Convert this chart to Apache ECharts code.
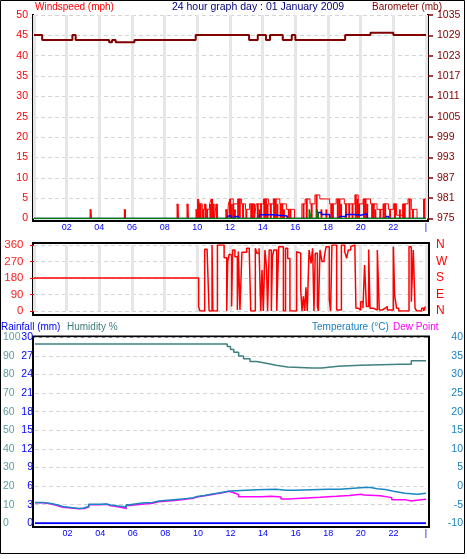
<!DOCTYPE html>
<html><head><meta charset="utf-8">
<script src="https://cdn.jsdelivr.net/npm/echarts@6/dist/echarts.min.js"></script>
<style>html,body{margin:0;padding:0;background:#fff}#c{width:467px;height:559px}</style>
</head><body><div id="c"></div>
<script>
// ---- Top panel: wind speed (mph) & barometer (mb) ----
const gustT = [0,3.45,3.52,5.53,5.6,8.77,8.85,9.38,9.45,9.93,10.0,10.05,10.12,10.3,10.45,10.55,10.75,10.85,10.95,11.05,11.15,11.25,11.75,11.85,11.9,12.0,12.2,12.5,12.7,12.95,13.2,13.5,13.6,14.05,14.35,14.65,15.05,15.45,15.95,16.4,16.6,16.9,17.2,17.5,18.1,18.5,19.0,19.65,19.85,20.15,20.6,21.0,21.4,21.7,22.0,22.2,22.6,22.9,23.1,23.45,23.85,24];
const gustV = [0,2.25,0,2.25,0,3.6,0,3.6,0,2.25,0,4.8,3.6,2.25,3.6,2.25,3.6,4.8,3.6,0,3.6,0,2.25,0,3.6,4.8,3.6,4.8,3.6,2.25,3.6,0,3.6,4.8,3.6,4.8,3.6,2.25,0,3.6,4.8,3.6,5.8,4.8,3.6,4.8,3.6,5.8,3.6,4.8,3.6,2.25,3.6,2.25,3.6,0.8,3.6,4.8,2.25,0,4.8,4.8];
const speedT = [3.47,5.57,8.8,9.41,9.96,10.05,10.1,10.2,10.35,10.5,10.6,10.8,10.9,11.0,11.2,11.8,12.0,12.1,12.2,12.3,12.5,12.6,12.8,13.0,13.3,13.4,13.7,13.8,13.9,14.1,14.2,14.3,14.5,14.7,14.8,14.9,15.1,15.2,15.3,15.6,15.7,16.5,16.7,17.0,17.3,17.6,17.9,18.2,18.3,18.6,18.7,18.8,19.1,19.3,19.5,19.7,19.8,19.9,20.2,20.3,20.4,20.7,20.8,20.9,21.2,21.4,21.5,21.8,22.1,22.4,22.6,22.7,23.0,23.2,23.9];
const speedV = [2.25,2.25,3.6,3.6,2.25,4.8,3.6,3.6,2.25,3.6,2.25,3.6,4.8,3.6,3.6,2.25,4.8,3.6,3.6,2.25,4.8,4.8,3.6,2.25,3.6,3.6,3.6,2.25,3.6,4.8,4.8,3.6,3.6,4.8,4.8,3.6,3.6,3.6,2.25,2.25,2.25,3.6,4.8,3.6,5.8,2.25,2.25,3.6,3.6,4.8,4.8,3.6,3.6,3.6,3.6,5.8,4.8,3.6,4.8,4.8,3.6,3.6,3.6,2.25,2.25,3.6,3.6,2.25,3.6,2.25,3.6,3.6,4.8,2.25,4.8];
const avgT = [0,11.85,12.1,12.3,12.5,13.8,14.6,15.5,17.4,17.6,18.1,18.7,19.1,19.6,20.0,20.4,21.55,21.7,24];
const avgV = [0,0.6,0,0.5,0,0.9,0.6,0,1.5,1.0,0,0.5,1.0,0.8,1.2,0,0.5,0,0];
const greenT = [0,16.85,16.95,17.33,17.43,24];
const greenV = [0,2.25,0,2.25,0,0];
const baroT = [0,0.5,2.35,2.55,4.6,4.78,5.0,6.15,9.9,13.17,13.7,14.2,14.45,15.23,15.78,16.0,19.05,20.6,22.0,24];
const baroV = [1029.1,1027.6,1029.1,1027.6,1027.0,1027.6,1027.0,1027.6,1029.1,1027.6,1029.1,1027.6,1029.1,1027.6,1029.1,1027.6,1029.1,1029.8,1029.1,1029.1];

// ---- Middle panel: wind direction (deg) ----
const dirT = [0,10.08,10.16,10.45,10.6,10.72,10.9,10.95,11.23,11.64,11.8,11.86,11.95,12.0,12.1,12.16,12.3,12.45,12.51,12.61,12.73,13.02,13.18,13.27,13.55,13.65,13.78,13.88,13.96,14.04,14.14,14.24,14.3,14.4,14.53,14.6,14.69,14.86,14.98,15.27,15.4,15.53,15.67,16.08,16.2,16.33,16.41,16.49,16.57,16.65,16.73,16.84,16.96,17.06,17.14,17.22,17.35,17.41,17.51,17.63,17.76,17.88,18.08,18.16,18.24,18.53,18.82,19.02,19.14,19.24,19.39,19.47,19.65,19.71,19.86,20.0,20.14,20.24,20.35,20.49,20.57,20.78,21.02,21.14,21.31,21.49,21.63,22.0,22.08,22.2,22.33,22.96,23.1,23.22,23.33,23.43,23.73,23.86,23.96,24];
const dirV = [180,24,0,337,325,0,360,0,360,290,0,270,310,305,24,333,296,5,324,5,320,342,320,0,342,315,342,0,224,0,333,232,0,333,0,300,333,0,351,0,342,287,0,324,315,115,0,80,0,130,0,333,260,342,0,315,25,0,333,270,287,351,60,0,360,5,360,324,287,333,351,360,315,15,5,51,15,251,24,336,15,5,333,5,15,24,5,351,87,15,0,351,51,333,15,0,15,0,24,24];
const dirLabels = {0:'N',90:'E',180:'S',270:'W',360:'N'};

// ---- Bottom panel: rainfall, humidity, temperature, dew point ----
const rainT = [0,24];
const rainV = [0,0];
const humT = [0,11.6,11.8,12.0,12.2,12.5,12.8,13.2,13.6,14.2,14.8,15.5,17.0,17.6,18.6,20.0,22.4,23.1,24];
const humV = [96.4,96.4,95,93.5,92,90,88.5,87,86,85,84,83.5,83.5,84.5,85,85.5,85.5,87.4,87.4];
const tempT = [0,0.5,1.0,1.4,1.7,2.7,3.0,3.3,4.0,4.4,4.65,5.0,5.4,5.6,5.8,6.7,7.2,7.6,8.7,9.0,9.35,9.7,9.96,10.4,10.8,11.2,11.6,12.0,13.6,14.8,15.4,15.9,18.0,18.7,20.2,20.6,21.0,21.5,22.0,22.7,23.5,23.6,24];
const tempV = [-4.4,-4.7,-5.1,-5.5,-6.0,-5.9,-5.5,-4.9,-4.8,-5.1,-5.3,-5.5,-5.7,-5.0,-4.5,-4.4,-4.0,-3.6,-3.5,-3.3,-3.1,-2.8,-2.5,-2.2,-1.9,-1.6,-1.3,-1.0,-0.86,-1.1,-1.1,-0.86,-0.86,-0.4,-0.4,-0.7,-0.9,-1.4,-1.9,-2.2,-2.1,-1.9,-1.9];
const dewT = [0,0.5,1.0,1.4,1.7,2.7,3.0,3.3,4.0,4.4,4.65,5.0,5.4,5.6,5.8,6.7,7.2,7.6,8.7,9.0,9.35,9.7,9.96,10.4,10.8,11.2,11.6,11.9,12.2,12.5,13.9,14.5,15.1,15.6,16.1,17.5,18.5,19.3,20.0,20.2,21.2,21.9,22.8,23.1,23.4,24];
const dewV = [-4.5,-4.8,-5.3,-5.7,-6.1,-6.0,-5.6,-5.0,-4.9,-5.3,-5.5,-5.8,-6.0,-5.2,-4.8,-4.6,-4.2,-3.8,-3.7,-3.5,-3.3,-2.9,-2.6,-2.3,-2.0,-1.7,-1.4,-1.8,-2.3,-2.85,-2.7,-2.9,-3.5,-3.3,-3.0,-2.75,-2.5,-2.2,-2.4,-2.6,-3.1,-3.7,-4.0,-3.8,-3.55,-3.55];

const F = '"Liberation Sans", Arial, sans-serif';
const pairs = (t, v) => t.map((x, i) => [x, v[i]]);
const hourFmt = v => v === 0 ? '' : (v === 24 ? '|' : (v < 10 ? '0' : '') + v);
const plain = v => String(v);
const dash = {show: true, lineStyle: {color: '#d4d4d4', type: [4, 3], width: 1}};
const vgrid = {show: true, lineStyle: {color: '#e6e6e6', width: 3}};

const chart = echarts.init(document.getElementById('c'));
chart.setOption({
  backgroundColor: '#ffffff',
  animation: false,
  textStyle: {fontFamily: F},
  grid: [
    {left: 34, top: 15, width: 392, height: 203.5},
    {left: 34, top: 245, width: 392, height: 66},
    {left: 34, top: 337.3, width: 392, height: 186}
  ],
  xAxis: [
    {gridIndex: 0, type: 'value', min: 0, max: 24, interval: 2, axisLine: {show: false}, axisTick: {show: false},
     axisLabel: {formatter: hourFmt, color: '#0000ff', fontSize: 9, margin: 5, fontFamily: F}, splitLine: vgrid},
    {gridIndex: 1, type: 'value', min: 0, max: 24, interval: 2, axisLine: {show: false}, axisTick: {show: false},
     axisLabel: {show: false}, splitLine: vgrid},
    {gridIndex: 2, type: 'value', min: 0, max: 24, interval: 2, axisLine: {show: false}, axisTick: {show: false},
     axisLabel: {formatter: hourFmt, color: '#0000ff', fontSize: 9, margin: 6, fontFamily: F}, splitLine: {show: false}}
  ],
  yAxis: [
    {gridIndex: 0, type: 'value', position: 'left', min: 0, max: 50, interval: 5, axisLine: {show: false}, axisTick: {show: false},
     axisLabel: {formatter: plain, color: '#ff0000', fontSize: 10.5, margin: 6, fontFamily: F}, splitLine: dash},
    {gridIndex: 0, type: 'value', position: 'right', min: 975, max: 1035, interval: 6, offset: 2, axisLine: {show: false},
     axisTick: {show: true, length: 5, lineStyle: {color: '#800000', width: 1.5}},
     axisLabel: {formatter: plain, color: '#800000', fontSize: 10.5, margin: 9, fontFamily: F}, splitLine: {show: false}},
    {gridIndex: 1, type: 'value', position: 'left', min: 0, max: 360, interval: 90, offset: 2, axisLine: {show: false},
     axisTick: {show: true, length: 4, lineStyle: {color: '#ff0000', width: 1}},
     axisLabel: {formatter: plain, color: '#ff2020', fontSize: 11.5, margin: 8.5, fontFamily: F}, splitLine: dash},
    {gridIndex: 1, type: 'value', position: 'right', min: 0, max: 360, interval: 90, axisLine: {show: false}, axisTick: {show: false},
     axisLabel: {color: '#ff0000', fontSize: 12, margin: 10, fontFamily: F, formatter: v => dirLabels[v] || ''}, splitLine: {show: false}},
    {gridIndex: 2, type: 'value', position: 'left', min: 0, max: 100, interval: 10, axisLine: {show: false}, axisTick: {show: false},
     axisLabel: {formatter: plain, color: '#5f9ea0', fontSize: 10.5, margin: 32, align: 'left', fontFamily: F}, splitLine: dash},
    {gridIndex: 2, type: 'value', position: 'left', min: 0, max: 30, interval: 3, axisLine: {show: false}, axisTick: {show: false},
     axisLabel: {formatter: plain, color: '#0000ff', fontSize: 10.5, margin: 2, fontFamily: F}, splitLine: {show: false}},
    {gridIndex: 2, type: 'value', position: 'right', min: -10, max: 40, interval: 5, axisLine: {show: false}, axisTick: {show: false},
     axisLabel: {formatter: plain, color: '#1a80c0', fontSize: 10.5, margin: 37, align: 'right', fontFamily: F}, splitLine: {show: false}}
  ],
  series: [
    {type: 'bar', xAxisIndex: 0, yAxisIndex: 0, data: pairs(speedT, speedV), barWidth: 2, itemStyle: {color: '#ff0000'}, silent: true},
    {type: 'line', xAxisIndex: 0, yAxisIndex: 0, data: pairs(gustT, gustV), step: 'end', showSymbol: false, lineStyle: {color: '#ff0000', width: 1}},
    {type: 'line', xAxisIndex: 0, yAxisIndex: 0, data: pairs(avgT, avgV), step: 'end', showSymbol: false, lineStyle: {color: '#0000ff', width: 1.5}},
    {type: 'line', xAxisIndex: 0, yAxisIndex: 0, data: pairs(greenT, greenV), step: 'end', showSymbol: false, lineStyle: {color: '#008000', width: 1.5}},
    {type: 'line', xAxisIndex: 0, yAxisIndex: 1, data: pairs(baroT, baroV), step: 'end', showSymbol: false, lineStyle: {color: '#800000', width: 2}},
    {type: 'line', xAxisIndex: 1, yAxisIndex: 2, data: pairs(dirT, dirV), step: 'end', showSymbol: false, lineStyle: {color: '#ff0000', width: 1.5}},
    {type: 'line', xAxisIndex: 2, yAxisIndex: 4, data: pairs(humT, humV), step: 'end', showSymbol: false, lineStyle: {color: '#408080', width: 1.5}},
    {type: 'line', xAxisIndex: 2, yAxisIndex: 5, data: pairs(rainT, rainV), showSymbol: false, lineStyle: {color: '#0000ff', width: 2}},
    {type: 'line', xAxisIndex: 2, yAxisIndex: 6, data: pairs(dewT, dewV), step: 'end', showSymbol: false, lineStyle: {color: '#ff00ff', width: 1.5}},
    {type: 'line', xAxisIndex: 2, yAxisIndex: 6, data: pairs(tempT, tempV), step: 'end', showSymbol: false, lineStyle: {color: '#1a86c2', width: 1.5}}
  ],
  graphic: [
    {type: 'rect', shape: {x: 0.5, y: 0.5, width: 464, height: 553}, style: {fill: null, stroke: '#000', lineWidth: 1}, silent: true},
    {type: 'polyline', shape: {points: [[33, 14], [33, 221], [428, 221], [428, 14]]}, style: {fill: null, stroke: '#000', lineWidth: 2}, silent: true},
    {type: 'rect', shape: {x: 33, y: 243, width: 396, height: 72}, style: {fill: null, stroke: '#000', lineWidth: 2}, silent: true},
    {type: 'rect', shape: {x: 33, y: 336.5, width: 396, height: 190.5}, style: {fill: null, stroke: '#000', lineWidth: 2}, silent: true},
    {type: 'text', x: 35, y: 7, style: {text: 'Windspeed (mph)', fill: '#ff0000', font: '10px ' + F, textVerticalAlign: 'middle'}},
    {type: 'text', x: 258, y: 7, style: {text: '24 hour graph day : 01 January 2009', fill: '#000080', font: '10.5px ' + F, textAlign: 'center', textVerticalAlign: 'middle'}},
    {type: 'text', x: 372, y: 7, style: {text: 'Barometer (mb)', fill: '#800000', font: '10px ' + F, textVerticalAlign: 'middle'}},
    {type: 'text', x: 1, y: 327.5, style: {text: 'Rainfall (mm)', fill: '#0000ff', font: '10px ' + F, textVerticalAlign: 'middle'}},
    {type: 'text', x: 67, y: 327.5, style: {text: 'Humidity %', fill: '#408080', font: '10px ' + F, textVerticalAlign: 'middle'}},
    {type: 'text', x: 312, y: 327.5, style: {text: 'Temperature (°C)', fill: '#1a80c0', font: '10px ' + F, textVerticalAlign: 'middle'}},
    {type: 'text', x: 393, y: 327.5, style: {text: 'Dew Point', fill: '#ff00ff', font: '10px ' + F, textVerticalAlign: 'middle'}}
  ]
});
</script>
</body></html>
